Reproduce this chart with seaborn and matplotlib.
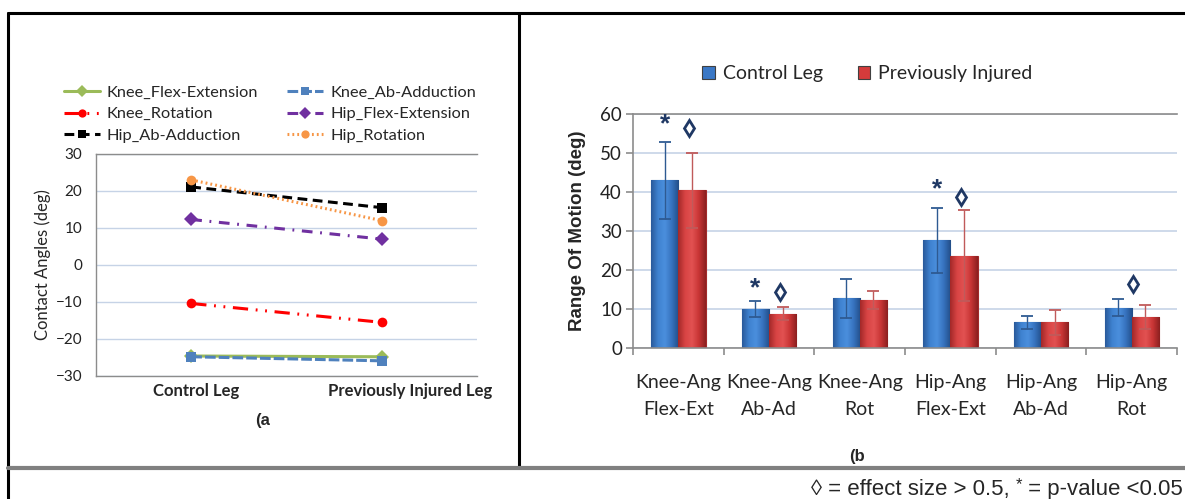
import numpy as np
import pandas as pd
import seaborn as sns
import matplotlib.pyplot as plt
import matplotlib.transforms as mtransforms
from matplotlib.lines import Line2D
from matplotlib.colors import LinearSegmentedColormap

# =====================================================================
# Data
# =====================================================================
legs = ["Control Leg", "Previously Injured Leg"]
series = ["Knee_Flex-Extension", "Knee_Ab-Adduction", "Knee_Rotation",
          "Hip_Flex-Extension", "Hip_Ab-Adduction", "Hip_Rotation"]
contact_control = [-24.6, -24.8, -10.4, 12.3, 21.1, 23.0]
contact_injured = [-24.8, -25.9, -15.5, 7.0, 15.5, 12.0]

rom_labels = ["Knee-Ang\nFlex-Ext", "Knee-Ang\nAb-Ad", "Knee-Ang\nRot",
              "Hip-Ang\nFlex-Ext", "Hip-Ang\nAb-Ad", "Hip-Ang\nRot"]
rom_control = [43.0, 10.0, 12.8, 27.6, 6.6, 10.3]
rom_control_sd = [9.9, 2.1, 5.0, 8.4, 1.7, 2.2]
rom_injured = [40.4, 8.8, 12.3, 23.7, 6.6, 7.9]
rom_injured_sd = [9.6, 1.6, 2.2, 11.6, 3.2, 3.0]

# significance marks: (category index, height) and for diamonds an x shift
star_marks = [(0, 57.3), (1, 15.3), (3, 40.6)]
diamond_marks = [(0, 56.5, 0.1), (1, 14.3, 0.1), (3, 38.8, 0.1), (5, 16.5, 0.45)]

# =====================================================================
# Style
# =====================================================================
sns.set_style("white")
plt.rcParams["font.family"] = ["Lato", "DejaVu Sans"]

fig = plt.figure(figsize=(11.85, 4.99), dpi=100)

# ---------------------------------------------------------------------
# (a) Contact angles
# ---------------------------------------------------------------------
df_a = pd.DataFrame({
    "leg": legs * len(series),
    "angle": [v for pair in zip(contact_control, contact_injured) for v in pair],
    "series": [s for s in series for _ in legs],
})

palette = {
    "Knee_Flex-Extension": "#9BBB59",
    "Knee_Ab-Adduction": "#4F81BD",
    "Knee_Rotation": "#FF0000",
    "Hip_Flex-Extension": "#7030A0",
    "Hip_Ab-Adduction": "#000000",
    "Hip_Rotation": "#F79646",
}
dashes = {
    "Knee_Flex-Extension": "",
    "Knee_Ab-Adduction": (3.5, 1.0),
    "Knee_Rotation": (5.0, 2.5, 0.6, 2.5, 0.6, 2.5),
    "Hip_Flex-Extension": (3.5, 2.5, 0.6, 2.5),
    "Hip_Ab-Adduction": (3.2, 1.8),
    "Hip_Rotation": (0.6, 1.0),
}
markers = {
    "Knee_Flex-Extension": "D",
    "Knee_Ab-Adduction": "s",
    "Knee_Rotation": "o",
    "Hip_Flex-Extension": "D",
    "Hip_Ab-Adduction": "s",
    "Hip_Rotation": "o",
}

ax_a = fig.add_axes([0.0810, 0.2465, 0.3215, 0.4449])
sns.lineplot(data=df_a, x="leg", y="angle", hue="series", style="series",
             hue_order=series, style_order=series, palette=palette,
             dashes=dashes, markers=markers, markersize=7, linewidth=2.2,
             markeredgewidth=0, ax=ax_a)
ax_a.set_xlim(-0.5, 1.5)
ax_a.set_ylim(-30, 30)
ax_a.set_yticks(range(-30, 31, 10))
ax_a.yaxis.grid(True, color="#C6D3E6", linewidth=1.0)
ax_a.set_axisbelow(True)
ax_a.spines["right"].set_visible(False)
for side in ["left", "top", "bottom"]:
    ax_a.spines[side].set_color("#8C8C8C")
    ax_a.spines[side].set_linewidth(1.0)
ax_a.tick_params(axis="y", labelsize=11, length=0, pad=10, labelcolor="#222222")
ax_a.tick_params(axis="x", length=0, pad=5)
ax_a.set_xlabel("")
ax_a.set_ylabel("Contact Angles (deg)", fontsize=12, labelpad=3)
for lab, dx in zip(ax_a.get_xticklabels(), [5, 28]):
    lab.set_fontweight("bold")
    lab.set_fontsize(12)
    lab.set_transform(lab.get_transform() +
                      mtransforms.ScaledTranslation(dx / 100, 0, fig.dpi_scale_trans))

handles, labels = ax_a.get_legend_handles_labels()
order = [0, 2, 4, 1, 3, 5]
ax_a.legend([handles[i] for i in order], [labels[i] for i in order], ncol=2,
            loc="upper left", bbox_to_anchor=(0.047, 0.846),
            bbox_transform=fig.transFigure, frameon=False, fontsize=11.8,
            handlelength=2.2, handletextpad=0.43, columnspacing=1.75,
            labelspacing=0.45, borderpad=0, markerscale=0.85)
fig.text(263 / 1185, 1 - 420 / 499, "(a", ha="center", va="center",
         fontsize=12, fontweight="bold", family="Liberation Sans")

# ---------------------------------------------------------------------
# (b) Range of motion
# ---------------------------------------------------------------------
df_b = pd.DataFrame({
    "joint": rom_labels * 2,
    "rom": rom_control + rom_injured,
    "group": ["Control Leg"] * len(rom_labels) + ["Previously Injured"] * len(rom_labels),
})

ax_b = fig.add_axes([0.5342, 0.3026, 0.4591, 0.469])
sns.barplot(data=df_b, x="joint", y="rom", hue="group", errorbar=None,
            palette={"Control Leg": "#3A78C6", "Previously Injured": "#D43B3B"},
            width=0.6, gap=0, linewidth=0.8, edgecolor="#404040", saturation=1,
            ax=ax_b)

# shaded "3D" look for the bars
cmaps = [
    LinearSegmentedColormap.from_list("bl", ["#2A5A9B", "#3F82D0", "#4B8FDD", "#3672BE", "#234E88"]),
    LinearSegmentedColormap.from_list("rd", ["#A32828", "#D84444", "#E25252", "#C83535", "#8C2020"]),
]
grad = np.linspace(0, 1, 64).reshape(1, -1)
for cont, cm, col in zip(ax_b.containers, cmaps, ["#2F5E97", "#A32A2A"]):
    for bar in cont:
        bar.set_edgecolor(col)
        x0, w, h = bar.get_x(), bar.get_width(), bar.get_height()
        im = ax_b.imshow(grad, extent=[x0, x0 + w, 0, h], aspect="auto", cmap=cm,
                         zorder=bar.get_zorder() + 0.1, interpolation="bilinear")
        im.set_clip_path(bar)

sd_colors = ["#2E5A92", "#C05A5A"]
for cont, sds, col in zip(ax_b.containers, [rom_control_sd, rom_injured_sd], sd_colors):
    xs = [b.get_x() + b.get_width() / 2 for b in cont]
    ys = [b.get_height() for b in cont]
    ax_b.errorbar(xs, ys, yerr=sds, fmt="none", ecolor=col, elinewidth=1.0,
                  capsize=4, capthick=1.3, zorder=6)

bar_w = ax_b.containers[0][0].get_width()
for idx, y in star_marks:
    b = ax_b.containers[0][idx]
    ax_b.text(b.get_x() + b.get_width() / 2, y, "*", ha="center", va="center",
              fontsize=19, fontweight="bold", color="#1F3864",
              family="Liberation Sans", zorder=7)
for idx, y, off in diamond_marks:
    b = ax_b.containers[1][idx]
    ax_b.plot(b.get_x() + b.get_width() / 2 - off * bar_w, y, marker="d",
              markersize=8.5, markerfacecolor="none", markeredgecolor="#1F3864",
              markeredgewidth=2.0, linestyle="none", zorder=7)

ax_b.set_ylim(0, 60)
ax_b.set_yticks(range(0, 61, 10))
ax_b.set_xlim(-0.5, 5.5)
ax_b.yaxis.grid(True, color="#C6D3E6", linewidth=1.2)
ax_b.set_axisbelow(True)
ax_b.spines["right"].set_visible(False)
for side in ["left", "top", "bottom"]:
    ax_b.spines[side].set_color("#8C8C8C")
    ax_b.spines[side].set_linewidth(1.2)
ax_b.set_xticks(np.arange(-0.5, 6, 1.0), minor=True)
ax_b.tick_params(axis="x", which="major", length=0, pad=19, labelsize=14)
ax_b.tick_params(axis="x", which="minor", length=5, color="#8C8C8C", width=1.2,
                 direction="out", bottom=True)
ax_b.tick_params(axis="y", length=5, color="#8C8C8C", width=1.2, direction="out",
                 left=True, labelsize=13.5, pad=3, labelcolor="#222222")
for lab in ax_b.get_xticklabels():
    lab.set_linespacing(1.72)
ax_b.set_xlabel("")
ax_b.set_ylabel("Range Of Motion (deg)", fontsize=13.5, fontweight="bold",
                family="Liberation Sans", labelpad=10)

sns.move_legend(ax_b, "center", bbox_to_anchor=(0.732, 0.852),
                bbox_transform=fig.transFigure, ncol=2, frameon=False, title=None,
                fontsize=14, handlelength=0.65, handleheight=0.65,
                handletextpad=0.4, columnspacing=1.8)
fig.text(857 / 1185, 1 - 457 / 499, "(b", ha="center", va="center",
         fontsize=12, fontweight="bold", family="Liberation Sans")

# ---------------------------------------------------------------------
# Table frame and footnote
# ---------------------------------------------------------------------
top_y = 1 - 13 / 499
left_x = 7.5 / 1185
mid_x = 519 / 1185
rule_y = 1 - 468 / 499
fig.add_artist(Line2D([left_x, 1], [top_y, top_y], color="black", linewidth=2.2))
fig.add_artist(Line2D([left_x, left_x], [0, top_y], color="black", linewidth=2.2))
fig.add_artist(Line2D([mid_x, mid_x], [rule_y, top_y], color="black", linewidth=2.2))
fig.add_artist(Line2D([left_x, 1], [rule_y, rule_y], color="#808080", linewidth=3.0))

# footnote built right to left: "◊ = effect size > 0.5, * = p-value <0.05"
foot_font = dict(fontsize=16, family=["Liberation Sans", "DejaVu Sans"])
foot_y = 1 - 495 / 499
renderer = fig.canvas.get_renderer()
t3 = fig.text(1183 / 1185, foot_y, " = p-value <0.05", ha="right", va="baseline",
              **foot_font)
x3 = t3.get_window_extent(renderer).x0 / fig.bbox.width
t2 = fig.text(x3, foot_y + 6 / 499, "*", ha="right", va="baseline",
              fontsize=12, family="Liberation Sans")
x2 = t2.get_window_extent(renderer).x0 / fig.bbox.width
fig.text(x2, foot_y, "\u25CA = effect size > 0.5, ", ha="right", va="baseline",
         **foot_font)

plt.savefig("out.png", dpi=100)
plt.close()
